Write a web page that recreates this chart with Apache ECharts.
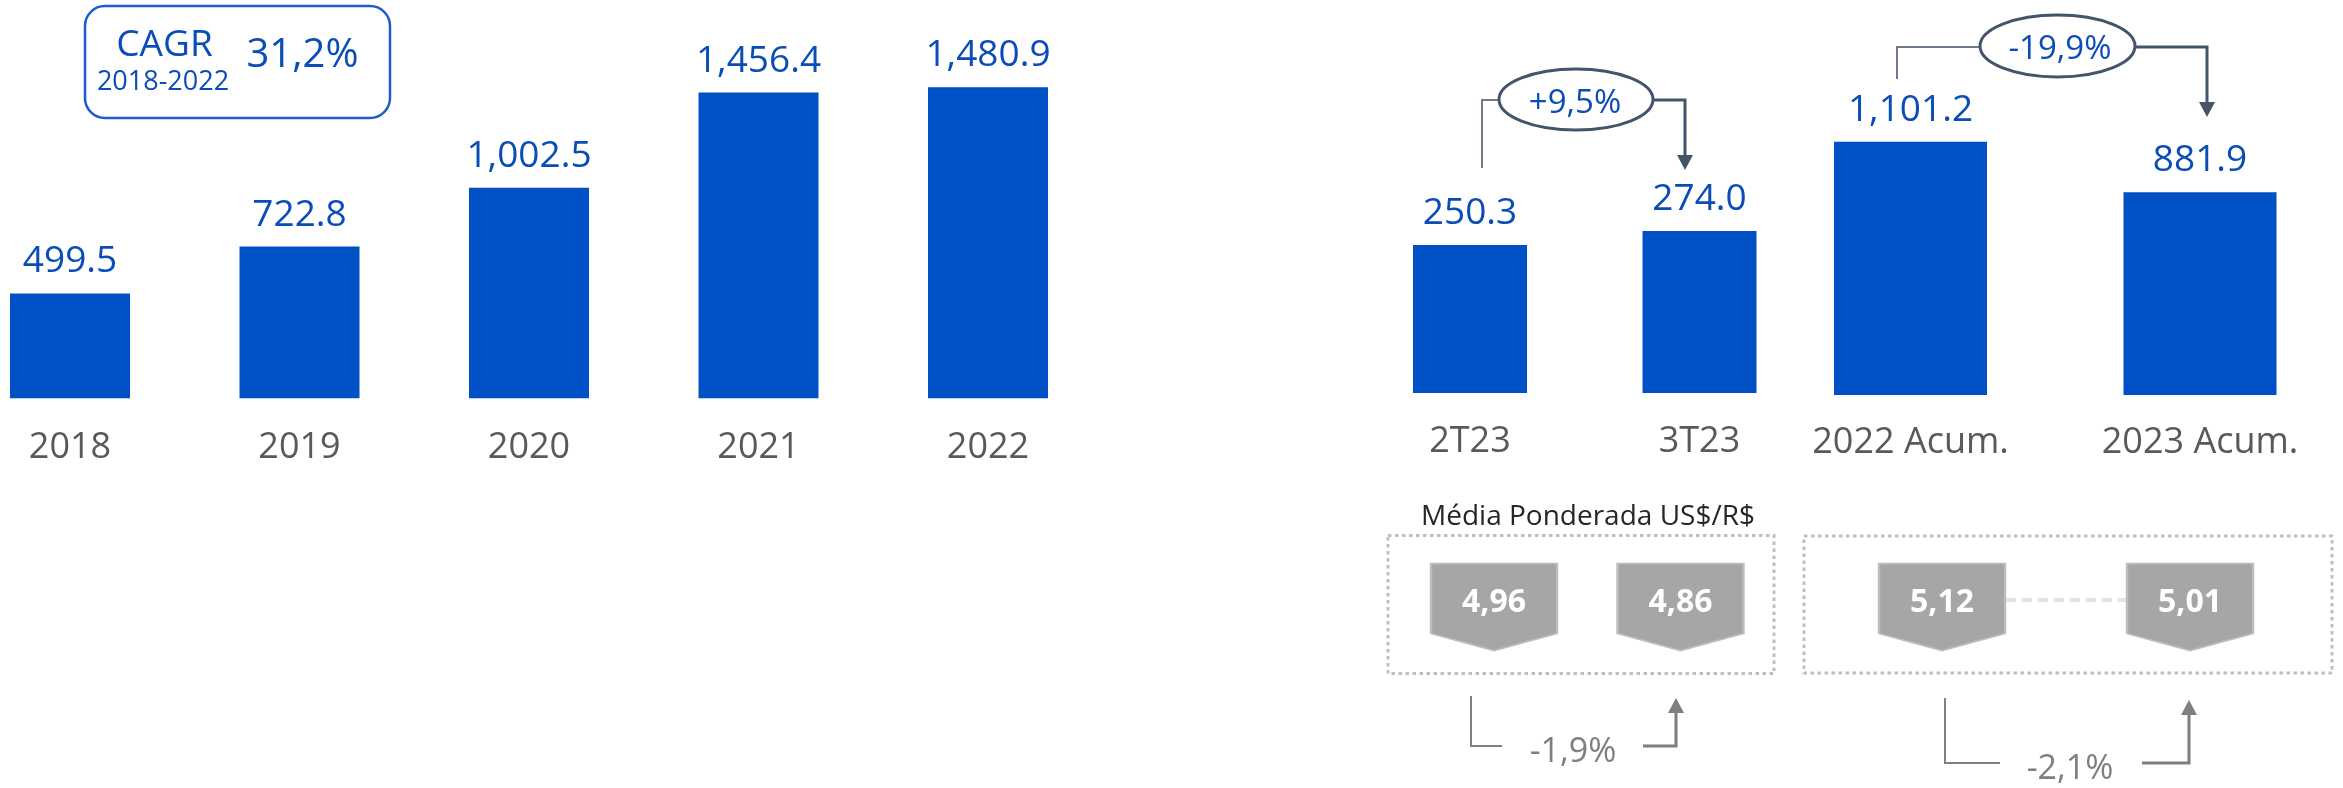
<!DOCTYPE html>
<html>
<head>
<meta charset="utf-8">
<script src="https://cdn.jsdelivr.net/npm/echarts@6/dist/echarts.min.js"></script>
<style>
html,body{margin:0;padding:0;background:#fff;}
#chart{width:2343px;height:788px;}
</style>
</head>
<body>
<div id="chart"></div>
<script>
// ---- data ----
const yearCats = ['2018', '2019', '2020', '2021', '2022'];
const yearValues = [499.5, 722.8, 1002.5, 1456.4, 1480.9];
const quarterCats = ['2T23', '3T23'];
const quarterValues = [250.3, 274.0];
const accumCats = ['2022 Acum.', '2023 Acum.'];
const accumValues = [1101.2, 881.9];
const fxQuarterValues = [4.96, 4.86];
const fxAccumValues = [5.12, 5.01];
const cagrTexts = ['CAGR', '2018-2022', '31,2%'];
const quarterChange = '+9,5%';
const accumChange = '-19,9%';
const fxQuarterChange = '-1,9%';
const fxAccumChange = '-2,1%';
const fxTitle = 'Média Ponderada US$/R$';

// ---- styles ----
const FONT = "'Open Sans', 'Noto Sans', sans-serif";
const BAR = '#0050c6';
const LBL = '#0a4cb8';
const CAT = '#595959';
const ANN = '#44546a';
const GRAY = '#7f7f7f';

const fmtVal = v => v.toLocaleString('en-US', {minimumFractionDigits: 1, maximumFractionDigits: 1});
const fmtFx = v => v.toFixed(2).replace('.', ',');

const chart = echarts.init(document.getElementById('chart'), null, {renderer: 'canvas'});

function catAxis(gridIndex, data, margin, show) {
  return {
    type: 'category', gridIndex, data,
    axisLine: {show: false}, axisTick: {show: false}, splitLine: {show: false},
    axisLabel: {show: show, margin: margin, fontSize: 36, color: CAT, fontFamily: FONT}
  };
}
function valAxis(gridIndex, min, max) {
  return {type: 'value', gridIndex, min, max, show: false, splitLine: {show: false}};
}
function barSeries(idx, data, width) {
  return {
    type: 'bar', xAxisIndex: idx, yAxisIndex: idx, data, barWidth: width,
    itemStyle: {color: BAR},
    label: {show: true, position: 'top', distance: 13, fontSize: 37, color: LBL, fontFamily: FONT,
      formatter: p => fmtVal(p.value)},
    silent: true, animation: false
  };
}
const pentagon = 'path://M0,0L126,0L126,70L63,87L0,70Z';
function fxSeries(idx, values) {
  return {
    type: 'scatter', xAxisIndex: idx, yAxisIndex: idx, z: 5,
    data: values.map((v, i) => [i, 0, v]),
    symbol: pentagon, symbolSize: [126, 87], symbolOffset: [0, 7],
    itemStyle: {color: '#a6a6a6', borderColor: '#bdbdbd', borderWidth: 2, opacity: 1},
    label: {show: true, position: 'inside', offset: [0, -4], fontSize: 32, fontWeight: 'bold',
      color: '#ffffff', fontFamily: FONT, formatter: p => fmtFx(p.value[2])},
    silent: true, animation: false
  };
}

const grids = [
  {left: -44.75, width: 1147.5, top: 83.3, height: 315},
  {left: 1355.25, width: 459, top: 215.7, height: 177.3},
  {left: 1765.75, width: 579, top: 119, height: 276},
  {left: 1400.75, width: 373, top: 550, height: 100},
  {left: 1818, width: 496, top: 550, height: 100}
].map(g => Object.assign({outerBoundsMode: 'none', containLabel: false}, g));

function poly(points, color, lw) {
  return {type: 'polyline', shape: {points}, style: {stroke: color, lineWidth: lw, fill: null}, silent: true};
}
function head(points, color) {
  return {type: 'polygon', shape: {points}, style: {fill: color}, silent: true};
}
function txt(x, y, text, size, color, weight) {
  return {type: 'text', x, y, silent: true, style: {text, fill: color, fontSize: size, fontFamily: FONT,
    fontWeight: weight || 'normal', align: 'center', verticalAlign: 'middle', textAlign: 'center', textVerticalAlign: 'middle'}};
}

const graphics = [
  // CAGR box
  {type: 'rect', shape: {x: 85, y: 6, width: 305, height: 112, r: 20}, style: {fill: null, stroke: '#1f5bd0', lineWidth: 2.5}, silent: true},
  txt(164.5, 45, cagrTexts[0], 37, LBL),
  txt(163, 82.5, cagrTexts[1], 27, LBL),
  txt(302.5, 56, cagrTexts[2], 40, LBL),
  // +9,5% annotation
  poly([[1482, 168], [1482, 100], [1499, 100]], '#6f7b8c', 2),
  {type: 'ellipse', shape: {cx: 1576, cy: 99.5, rx: 77, ry: 30.5}, style: {fill: '#fff', stroke: ANN, lineWidth: 3}, silent: true},
  poly([[1653, 100], [1685, 100], [1685, 157]], ANN, 3),
  head([[1677, 155], [1693, 155], [1685, 170]], ANN),
  txt(1575, 103.5, quarterChange, 33, LBL),
  // -19,9% annotation
  poly([[1897, 79], [1897, 47], [1980, 47]], '#6f7b8c', 2),
  {type: 'ellipse', shape: {cx: 2057.5, cy: 46, rx: 77.5, ry: 31}, style: {fill: '#fff', stroke: ANN, lineWidth: 3}, silent: true},
  poly([[2135, 47], [2207, 47], [2207, 104]], ANN, 3),
  head([[2199, 102], [2215, 102], [2207, 117]], ANN),
  txt(2060, 49.5, accumChange, 33, LBL),
  // FX panel
  txt(1588, 517, fxTitle, 28, '#262626'),
  {type: 'rect', shape: {x: 1388, y: 535.5, width: 386, height: 138}, style: {fill: null, stroke: '#bfbfbf', lineWidth: 3, lineDash: [3.5, 3.5]}, silent: true},
  {type: 'rect', shape: {x: 1804, y: 536, width: 528, height: 137}, style: {fill: null, stroke: '#bfbfbf', lineWidth: 3, lineDash: [3.5, 3.5]}, silent: true},
  // -1,9%
  poly([[1471, 696], [1471, 746], [1502, 746]], GRAY, 2),
  poly([[1643, 746], [1676, 746], [1676, 711]], GRAY, 3),
  head([[1668, 713], [1684, 713], [1676, 698]], GRAY),
  txt(1573, 752, fxQuarterChange, 34, GRAY),
  // -2,1%
  poly([[1945, 698], [1945, 763], [2000, 763]], GRAY, 2),
  poly([[2142, 763], [2189, 763], [2189, 714]], GRAY, 3),
  head([[2181, 715], [2197, 715], [2189, 700]], GRAY),
  txt(2070, 769, fxAccumChange, 34, GRAY)
];

chart.setOption({
  animation: false,
  backgroundColor: '#ffffff',
  textStyle: {fontFamily: FONT},
  grid: grids,
  xAxis: [
    catAxis(0, yearCats, 31, true),
    catAxis(1, quarterCats, 31, true),
    catAxis(2, accumCats, 30, true),
    catAxis(3, quarterCats, 0, false),
    catAxis(4, accumCats, 0, false)
  ],
  yAxis: [
    valAxis(0, 0, 1500),
    valAxis(1, 0, 300),
    valAxis(2, 0, 1200),
    valAxis(3, -1, 1),
    valAxis(4, -1, 1)
  ],
  series: [
    barSeries(0, yearValues, 120),
    barSeries(1, quarterValues, 114),
    barSeries(2, accumValues, 153),
    {
      type: 'line', xAxisIndex: 4, yAxisIndex: 4, z: 2,
      data: fxAccumValues.map((v, i) => [i, 0]),
      symbol: 'none', lineStyle: {color: '#e3e3e3', width: 4, type: [10, 6]},
      silent: true, animation: false
    },
    fxSeries(3, fxQuarterValues),
    fxSeries(4, fxAccumValues)
  ],
  graphic: graphics
});
</script>
</body>
</html>
